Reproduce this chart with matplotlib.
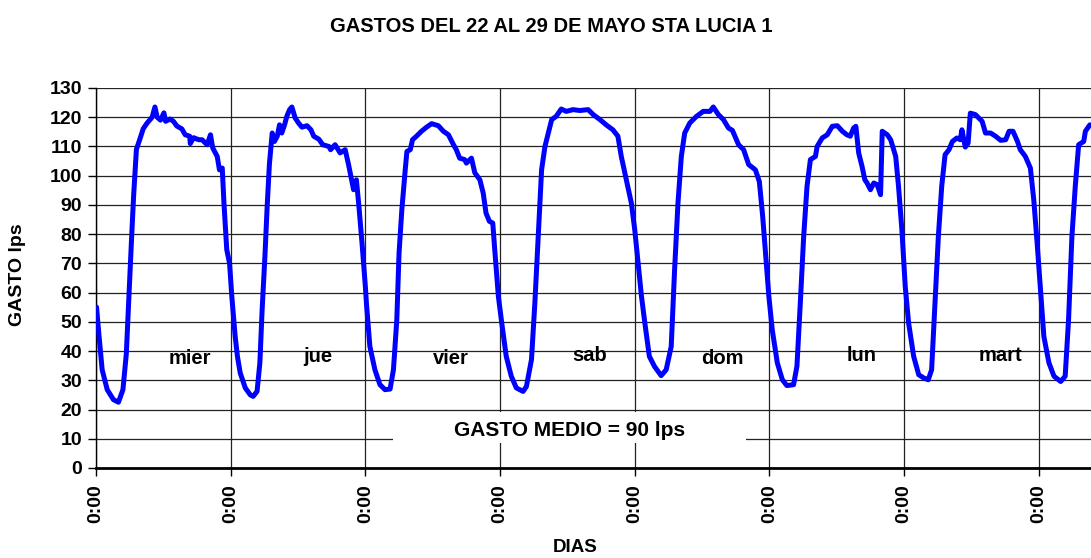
import matplotlib.pyplot as plt
from matplotlib.patches import Rectangle

plt.rcParams['font.family'] = ['Liberation Sans', 'DejaVu Sans']
plt.rcParams['font.weight'] = 'bold'

# horas desde el miercoles 0:00 y gasto en lps
horas = [0.1, 0.5, 1.1, 2.0, 3.1, 4.0, 4.8, 5.4, 5.8, 6.3, 6.7, 7.2, 7.9, 8.4, 9.1, 10.0, 10.5, 10.9,
         11.5, 12.1, 12.4, 13.2, 13.8, 14.4, 15.3, 15.9, 16.7, 16.8, 17.4, 18.3, 18.9, 19.8, 20.4, 20.8,
         21.6, 22.0, 22.5, 22.8, 23.3, 23.8,
         24.2, 24.8, 25.2, 25.7, 26.6, 27.5, 28.0, 28.7, 29.2, 29.6, 30.1, 30.5, 30.9, 31.4, 31.8, 32.3,
         32.7, 33.1, 33.6, 34.0, 34.5, 34.9, 35.5, 36.1, 36.7, 37.6, 38.3, 38.8, 39.7, 40.4, 41.5, 41.8,
         42.6, 43.5, 44.4, 45.0, 45.6, 45.9, 46.4, 46.8, 47.4, 48.0,
         48.2, 48.8, 49.7, 50.6, 51.5, 52.4, 53.0, 53.6, 54.0, 54.5, 55.1, 55.4, 56.0, 56.4, 57.1, 58.0,
         58.9, 59.8, 61.0, 61.9, 62.8, 63.7, 64.2, 64.8, 65.7, 66.0, 66.9, 67.5, 68.4, 69.0, 69.5, 70.1,
         70.7, 71.1, 71.7,
         72.3, 73.1, 74.0, 74.9, 76.1, 76.7, 77.6, 78.2, 78.8, 79.4, 80.0, 80.6, 81.2, 82.0, 82.9, 83.8,
         85.0, 86.2, 87.7, 88.6, 89.8, 90.9, 92.1, 93.0, 93.6, 94.5, 95.4,
         96.0, 96.6, 97.2, 97.8, 98.6, 99.5, 100.7, 101.6, 102.5, 103.1, 103.7, 104.3, 104.9, 105.8,
         107.0, 108.2, 109.4, 110.0, 110.9, 111.8, 112.7, 113.4, 114.5, 115.4, 116.3, 117.5, 118.2,
         118.8, 119.3, 119.9,
         120.5, 121.4, 122.3, 123.1, 124.3, 124.9, 125.5, 126.1, 126.7, 127.3, 128.2, 128.5, 129.4,
         130.3, 131.2, 132.1, 133.0, 133.8, 134.4, 135.0, 135.4, 135.9, 136.5, 137.0, 137.4, 138.0,
         138.6, 139.2, 139.8, 140.1, 141.0, 141.6, 142.5, 143.0, 143.6,
         144.2, 144.8, 145.7, 146.6, 147.5, 148.3, 148.9, 149.5, 150.1, 150.7, 151.3, 152.0, 152.6,
         153.4, 154.0, 154.3, 154.9, 155.4, 155.8, 156.7, 157.9, 158.5, 159.4, 160.3, 161.2, 162.1,
         162.7, 163.4, 164.2, 164.7, 165.6, 166.5, 167.1, 167.7,
         168.3, 168.9, 169.8, 170.7, 171.9, 172.7, 173.3, 173.9, 174.5, 175.1, 176.0, 176.3, 177.1]
gasto = [55, 46, 33.6, 26.8, 23.4, 22.5, 26.8, 39, 56, 77, 93, 109, 113, 116, 118, 120, 123.5, 120,
         119, 121.5, 118.6, 119.4, 118.6, 117, 116, 114, 113.5, 111, 113, 112.3, 112.3, 110.6, 114, 109.5,
         106.6, 102, 102.6, 90.6, 74.7, 70,
         58.7, 45, 38.2, 32.5, 27.4, 25, 24.5, 26.2, 36, 54, 72.4, 89.5, 104, 114.6, 111.7, 113.5,
         117.4, 114.6, 117.4, 120.3, 122.6, 123.5, 119.7, 118, 116.6, 117.1, 115.7, 113.5, 112.5, 110.6, 110, 108.9,
         110.6, 107.8, 108.9, 103.8, 98, 95.2, 98.6, 90.6, 77, 62,
         56, 41.6, 33.6, 28.5, 26.8, 27, 33.6, 50.7, 73.5, 88.4, 102, 108.3, 108.9, 112.3, 113.5, 115.2,
         116.6, 117.8, 117.1, 115.2, 114, 110.6, 108.9, 106, 105.5, 104.3, 106, 101, 98.6, 94, 87.2, 84.4,
         83.8, 73.5, 58.7,
         49.6, 38.2, 31.4, 27.4, 26.2, 27.9, 37.1, 56.4, 79.2, 102, 110, 114.6, 119.2, 120.3, 122.8, 122,
         122.6, 122.3, 122.6, 120.9, 119.2, 117.4, 115.7, 113.5, 106.6, 98.6, 90.6,
         81.5, 70, 58.7, 49.6, 38.2, 34.8, 31.6, 33.6, 41.6, 67.8, 90.6, 106.6, 114.6, 118,
         120.3, 122, 122, 123.5, 120.9, 119.2, 116.3, 115.5, 110.6, 108.9, 103.8, 102, 98,
         86, 73.5, 58.7,
         47.3, 36, 30.2, 28.2, 28.5, 34.8, 56.4, 79.2, 96.4, 105.5, 106.6, 110, 112.9,
         114, 116.9, 117.1, 115.2, 114, 113.5, 116.3, 116.9, 107.8, 103.2, 98.6, 97.5, 95.2,
         97.5, 96.9, 93.5, 115.2, 114, 112.3, 106.6, 96.4, 81.5,
         62.1, 49.6, 38.2, 31.9, 30.8, 30.2, 33.6, 56.4, 79.2, 96.4, 107.2, 108.9, 111.7,
         112.9, 112.3, 115.7, 109.8, 111.1, 121.4, 120.9, 118.6, 114.6, 114.6, 113.5, 112.1, 112.3,
         115.2, 115.2, 111.7, 108.9, 106.6, 102.6, 91.8, 77,
         61, 45, 36, 31.4, 29.6, 31.4, 50.7, 79.2, 96.4, 110.6, 111.7, 115.2, 117.4]

dias = ['mier', 'jue', 'vier', 'sab', 'dom', 'lun', 'mart']
dias_x = [16.8, 39.6, 63.3, 87.9, 111.7, 136.5, 161.1]
dias_y = [35.6, 36.4, 35.6, 36.7, 35.6, 36.7, 36.7]

fig = plt.figure(figsize=(10.91, 5.58), dpi=100)
ax = fig.add_axes([96 / 1091, 90 / 558, 1 - 96 / 1091, 380 / 558])

ax.plot(horas, gasto, color='#0000FF', lw=3.6, solid_joinstyle='round',
        solid_capstyle='round', zorder=3)

ax.set_xlim(0, 177.3)
ax.set_ylim(0, 130)
ax.set_yticks(range(0, 131, 10))
ax.set_xticks(range(0, 169, 24))
ax.set_xticklabels(['0:00'] * 8, rotation=90)
ax.tick_params(axis='both', direction='out', length=6, width=1, color='black', labelsize=14)
ax.tick_params(axis='x', pad=6)
ax.tick_params(axis='y', pad=4)
for lab in ax.get_xticklabels() + ax.get_yticklabels():
    lab.set_fontweight('bold')

ax.grid(True, color='#222222', lw=0.9)
ax.set_axisbelow(True)
for s in ['top', 'right']:
    ax.spines[s].set_visible(False)
ax.spines['bottom'].set_linewidth(2)
ax.spines['left'].set_linewidth(1)

for d, x, y in zip(dias, dias_x, dias_y):
    ax.text(x, y, d, ha='center', va='baseline', fontsize=14.5, fontweight='bold', zorder=4)

# recuadro blanco del gasto medio
ax.add_patch(Rectangle((52.9, 8.6), 62.9, 10.6, facecolor='white', edgecolor='none', zorder=2))
ax.text(84.3, 11.0, 'GASTO MEDIO = 90 lps', ha='center', va='baseline', fontsize=15,
        fontweight='bold', zorder=4)

fig.text(551 / 1091, 1 - 27 / 558, 'GASTOS DEL 22 AL 29 DE MAYO STA LUCIA 1', ha='center',
         va='center', fontsize=14.5, fontweight='bold')
fig.text(18 / 1091, 1 - 275 / 558, 'GASTO lps', rotation=90, ha='center', va='center',
         fontsize=14, fontweight='bold')
fig.text(575 / 1091, 1 - 548 / 558, 'DIAS', ha='center', va='center', fontsize=13.5,
         fontweight='bold')

fig.savefig('out.png', dpi=100)
